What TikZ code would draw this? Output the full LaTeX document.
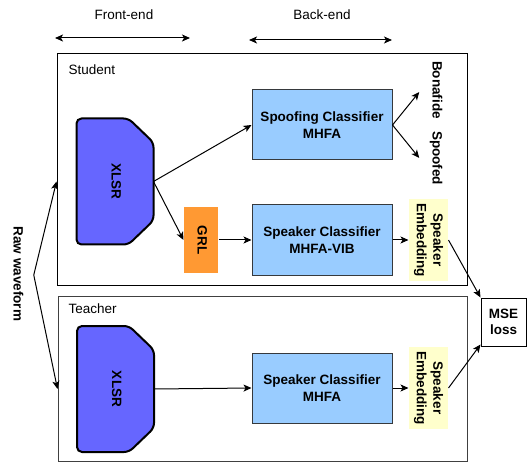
\documentclass[tikz,border=0pt]{standalone}
\usepackage{fontspec}
\setmainfont{Liberation Sans}
\usetikzlibrary{positioning}
\usetikzlibrary{calc}
\usetikzlibrary{arrows.meta}
\usetikzlibrary{backgrounds}
\definecolor{xlsrblue}{HTML}{6666FF}
\definecolor{grlorange}{HTML}{FF9933}
\definecolor{clsblue}{HTML}{99CCFF}
\definecolor{clsline}{HTML}{36393D}
\definecolor{embyellow}{HTML}{FFFFCC}
\newcommand{\vlab}[1]{\rotatebox{-90}{\begin{tabular}{@{}c@{}}#1\end{tabular}}}
\tikzset{
boldtxt/.style={font=\fontsize{13.5}{16.5}\selectfont\bfseries},
frame/.style={
  draw=black,
  line width=1pt,
  inner sep=0pt
  },
xlsr/.style={
  boldtxt,
  inner sep=0pt,
  minimum width=76pt,
  minimum height=125pt
  },
xlsrline/.style={
  draw=black,
  fill=xlsrblue,
  line width=2pt,
  rounded corners=5pt
  },
cls/.style={
  boldtxt,
  draw=clsline,
  fill=clsblue,
  line width=1pt,
  align=center,
  minimum width=140pt,
  minimum height=70pt
  },
emb/.style={
  boldtxt,
  fill=embyellow,
  inner sep=0pt,
  minimum width=39pt,
  minimum height=82pt
  },
lab/.style={
  boldtxt,
  inner sep=0pt
  }
}

\begin{document}
\begin{tikzpicture}[x=1pt,y=-1pt,>={Stealth[length=8pt,width=7pt,inset=2pt]},line width=1pt,font=\fontsize{13.5}{16.5}\selectfont]
    \useasboundingbox (0,0) rectangle (527,462);
    % front-end / back-end
    \node (fe) at (124,15) {Front-end};
    \node (be) at (322,15) {Back-end};
    \coordinate (fel) at (55,38);
    \coordinate (fer) at (190,38);
    \coordinate (bel) at (249,40);
    \coordinate (ber) at (392,40);
    \draw[<->] (fel) -- (fer);
    \draw[<->] (bel) -- (ber);
    % frames
    \node[frame,minimum width=410pt,minimum height=231pt] (student) at (262,169.5) {};
    \node[frame,draw=black!75,minimum width=409pt,minimum height=165pt] (teacher) at (262.5,378.5) {};
    \node[anchor=base west,inner sep=0pt] (studentlab) at (68,75) {Student};
    \node[anchor=base west,inner sep=0pt] (teacherlab) at (68,313) {Teacher};
    % nodes
    \node[xlsr] (xs) at (115,181.5) {\vlab{XLSR}};
    \node[xlsr] (xt) at (115.5,389) {\vlab{XLSR}};
    \node[boldtxt,fill=grlorange,inner sep=0pt,minimum width=34pt,minimum height=66pt] (grl) at (201,240) {\vlab{GRL}};
    \node[cls] (sp) at (322,125) {Spoofing Classifier\\MHFA};
    \node[cls] (sk) at (322,240) {Speaker Classifier\\MHFA-VIB};
    \node[cls] (skt) at (322,388) {Speaker Classifier\\MHFA};
    \node[emb] (emb) at (428.5,240) {\vlab{Speaker\\Embedding}};
    \node[emb] (embt) at (428.5,388) {\vlab{Speaker\\Embedding}};
    \node[lab] (bona) at (436,90) {\vlab{Bonafide}};
    \node[lab] (spoof) at (436,158) {\vlab{Spoofed}};
    \node[boldtxt,draw=black,align=center,minimum width=45pt,minimum height=48pt,inner sep=0pt] (mse) at (503.5,322) {MSE\\loss};
    \node[lab] (raw) at (17,274) {\vlab{Raw waveform}};
    \coordinate (fork) at ($(raw.east)+(8,1)$);
    % xlsr outline
    \begin{scope}[on background layer]
    \foreach \n in {xs,xt}
        \draw[xlsrline] ([xshift=-25pt]\n.north east) -- ([yshift=-24pt]\n.north east) -- ([yshift=24pt]\n.south east) -- ([xshift=-25pt]\n.south east) -- (\n.south west) -- (\n.north west) -- cycle;
    \end{scope}
    % connectors
    \path[->]
    (fork) edge [] node {} (xs.west -| student.west)
    (fork) edge [] node {} (xt.west -| teacher.west)
    (xs.east) edge [] node {} (sp.west)
    (xs.east) edge [] node {} (grl.west)
    (grl.east) edge [] node {} (sk.west)
    (sp.east) edge [] node {} ($(bona.west)+(-8,2)$)
    (sp.east) edge [] node {} ($(spoof.west)+(-8,0)$)
    (sk.east) edge [] node {} (emb.west)
    (xt.east) edge [] node {} (skt.west)
    (skt.east) edge [] node {} (embt.west)
    (emb.east) edge [] node {} (mse.north west)
    (embt.east) edge [] node {} ($(mse.south west)+(0,-2)$)
    ;
\end{tikzpicture}
\end{document}
